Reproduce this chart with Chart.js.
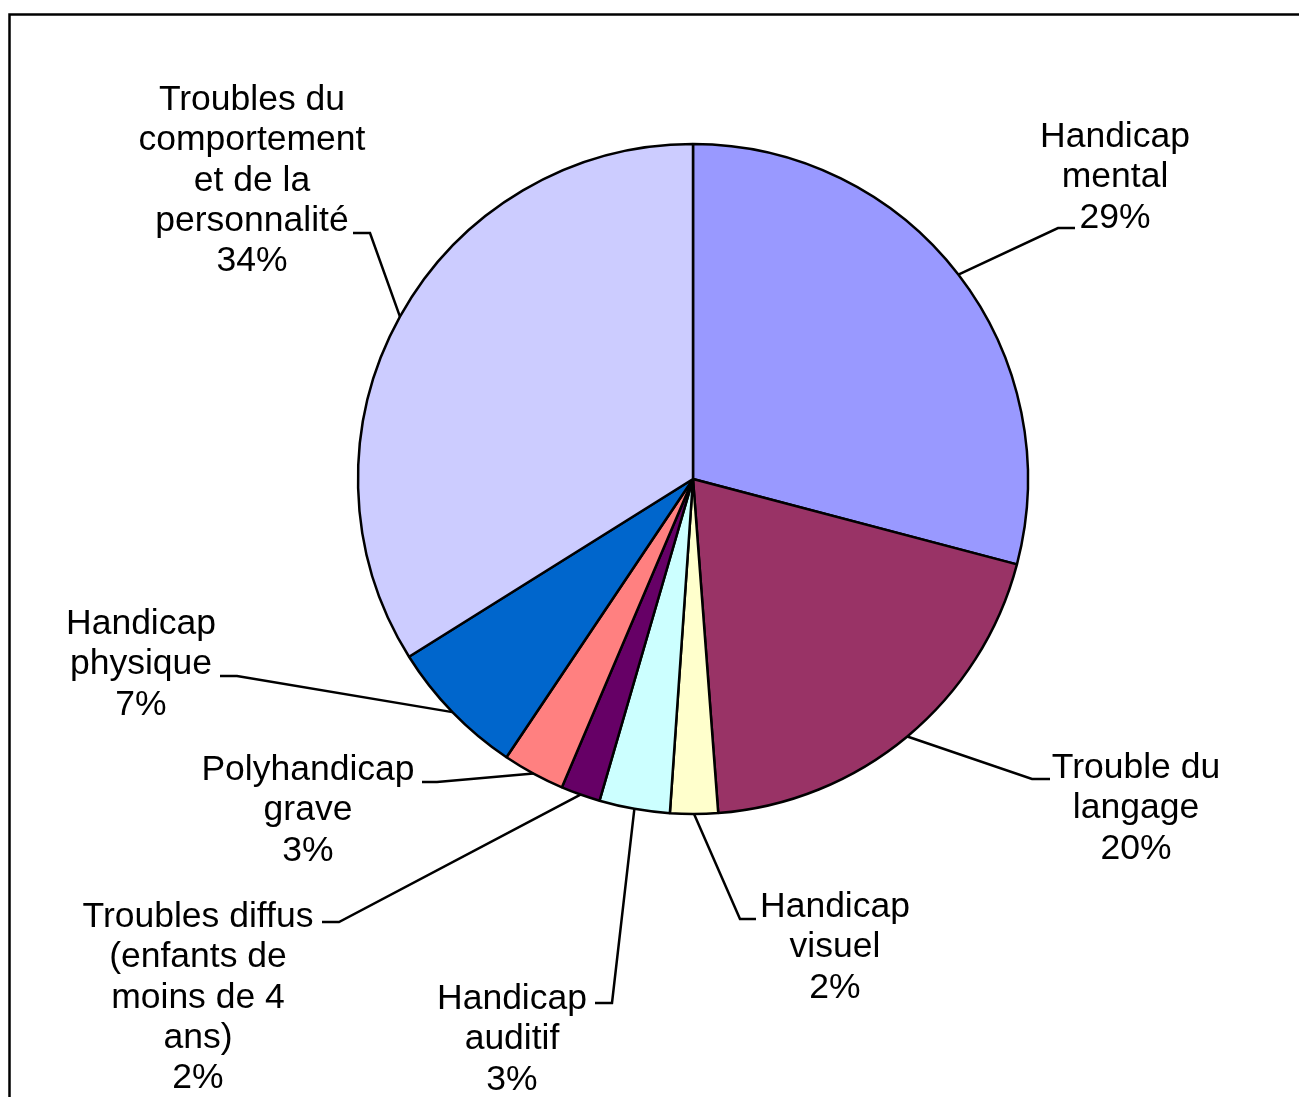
<!DOCTYPE html>
<html lang="fr">
<head>
<meta charset="utf-8">
<title>Répartition par type de handicap</title>
<script src="https://cdn.jsdelivr.net/npm/chart.js@4.4.0/dist/chart.umd.min.js"></script>
<style>
  html, body { margin: 0; padding: 0; background: #fff; }
  canvas { display: block; }
</style>
</head>
<body>
<canvas id="pieChart" width="1299" height="1097"></canvas>
<script>
// Données (en %)
const categories = [
  ['Handicap', 'mental'],
  ['Trouble du', 'langage'],
  ['Handicap', 'visuel'],
  ['Handicap', 'auditif'],
  ['Troubles diffus', '(enfants de', 'moins de 4', 'ans)'],
  ['Polyhandicap', 'grave'],
  ['Handicap', 'physique'],
  ['Troubles du', 'comportement', 'et de la', 'personnalité']
];
const valeurs = [29.1, 19.7, 2.3, 3.4, 1.9, 3.0, 6.7, 33.9];
const couleurs = ['#9999FF', '#993366', '#FFFFCC', '#CCFFFF', '#660066', '#FF8080', '#0066CC', '#CCCCFF'];

// Placement des étiquettes (centre du texte, 1re ligne de base) et des traits de rappel
const placement = [
  { x: 1115, y: 147,  coude: [1058, 228], fin: [1075, 228] },
  { x: 1136, y: 778,  coude: [1032, 779], fin: [1050, 779] },
  { x: 835,  y: 917,  coude: [740, 919],  fin: [756, 919] },
  { x: 512,  y: 1009, coude: [612, 1003], fin: [595, 1003] },
  { x: 198,  y: 927,  coude: [339, 922],  fin: [322, 922] },
  { x: 308,  y: 780,  coude: [437, 782],  fin: [422, 782] },
  { x: 141,  y: 634,  coude: [237, 676],  fin: [220, 676] },
  { x: 252,  y: 110,  coude: [370, 233],  fin: [353, 233] }
];
const interligne = 40.3;

// Cadre (haut et gauche)
const cadrePlugin = {
  id: 'cadre',
  beforeDraw(chart) {
    const ctx = chart.ctx;
    ctx.save();
    ctx.strokeStyle = '#000';
    ctx.lineWidth = 2.5;
    ctx.beginPath();
    ctx.moveTo(9.5, 1097);
    ctx.lineTo(9.5, 14.5);
    ctx.lineTo(1299, 14.5);
    ctx.stroke();
    ctx.restore();
  }
};

// Étiquettes avec traits de rappel
const etiquettesPlugin = {
  id: 'etiquettes',
  afterDraw(chart) {
    const ctx = chart.ctx;
    const arcs = chart.getDatasetMeta(0).data;
    ctx.save();
    ctx.font = '35.5px "Liberation Sans", Arial, sans-serif';
    ctx.textAlign = 'center';
    ctx.textBaseline = 'alphabetic';
    ctx.fillStyle = '#000';
    ctx.strokeStyle = '#000';
    ctx.lineWidth = 2.5;
    arcs.forEach((arc, i) => {
      const p = placement[i];
      const a = (arc.startAngle + arc.endAngle) / 2;
      const sx = arc.x + Math.cos(a) * arc.outerRadius;
      const sy = arc.y + Math.sin(a) * arc.outerRadius;
      ctx.beginPath();
      ctx.moveTo(sx, sy);
      ctx.lineTo(p.coude[0], p.coude[1]);
      ctx.lineTo(p.fin[0], p.fin[1]);
      ctx.stroke();

      const lignes = categories[i].concat([Math.round(valeurs[i]) + '%']);
      lignes.forEach((txt, j) => {
        ctx.fillText(txt, p.x, p.y + j * interligne);
      });
    });
    ctx.restore();
  }
};

const ctx = document.getElementById('pieChart').getContext('2d');
new Chart(ctx, {
  type: 'pie',
  data: {
    labels: categories.map(c => c.join(' ')),
    datasets: [{
      data: valeurs,
      backgroundColor: couleurs,
      borderColor: '#000',
      borderWidth: 2.5
    }]
  },
  options: {
    responsive: false,
    animation: false,
    radius: 335,
    layout: {
      padding: { left: 358, right: 271, top: 144, bottom: 283 }
    },
    plugins: {
      legend: { display: false },
      tooltip: { enabled: false }
    }
  },
  plugins: [cadrePlugin, etiquettesPlugin]
});
</script>
</body>
</html>
